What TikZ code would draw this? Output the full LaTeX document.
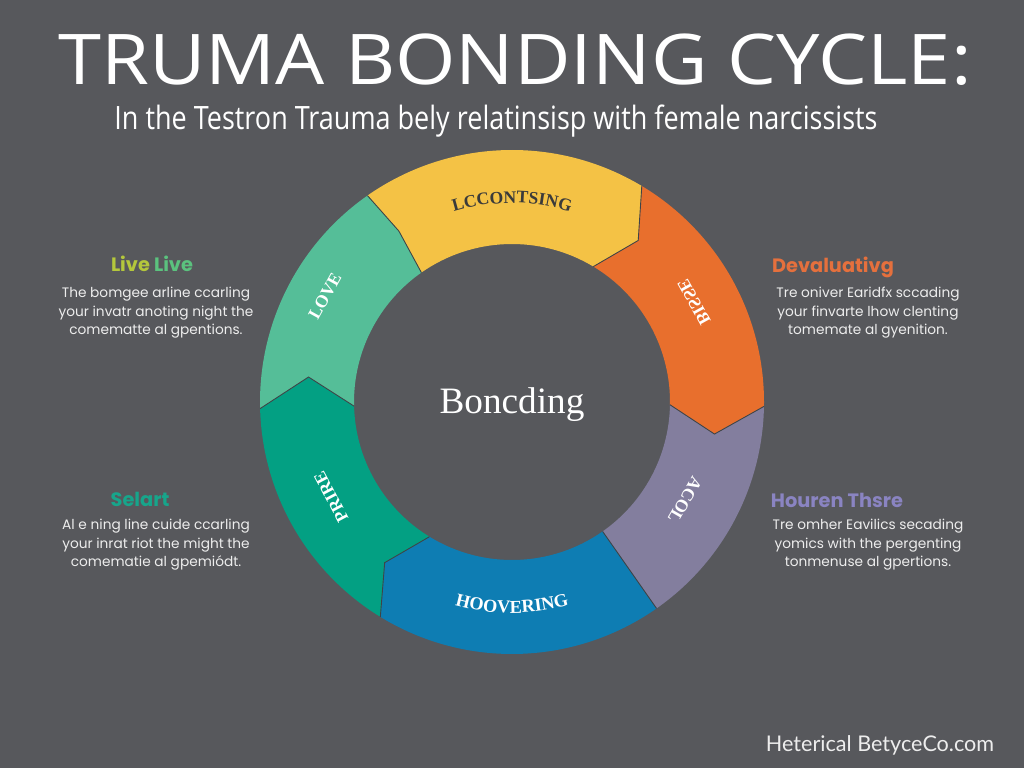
\documentclass[tikz,border=0pt]{standalone}
\usepackage{fontspec}
\usepackage{graphicx}
\usetikzlibrary{decorations.text}
\setmainfont{Liberation Serif}
\newfontfamily\titlefont[FakeStretch=1.11]{Open Sans}
\newfontfamily\subfont[FakeStretch=0.84]{Open Sans}
\newfontfamily\bodyfont{Poppins}
\newfontfamily\footfont{Lato}

\definecolor{bg}{HTML}{57585C}
\definecolor{ringye}{HTML}{F4C245}
\definecolor{ringog}{HTML}{E86F2D}
\definecolor{ringpu}{HTML}{837E9E}
\definecolor{ringbl}{HTML}{0E7DB3}
\definecolor{ringdg}{HTML}{03A083}
\definecolor{ringlg}{HTML}{55BE98}
\definecolor{seamgray}{HTML}{3F4447}
\definecolor{lbldark}{HTML}{3A3A3A}
\definecolor{bodywhite}{HTML}{EDEDED}
\definecolor{liveA}{HTML}{B4C73C}
\definecolor{liveB}{HTML}{5BC27E}
\definecolor{devorange}{HTML}{E5703D}
\definecolor{selteal}{HTML}{17A58B}
\definecolor{houlav}{HTML}{8A84C2}

\tikzset{
	ye/.style={fill=ringye},
	og/.style={fill=ringog},
	pu/.style={fill=ringpu},
	bl/.style={fill=ringbl},
	dg/.style={fill=ringdg},
	lg/.style={fill=ringlg},
	seam/.style={draw=seamgray, line width=0.5pt},
	head/.style={font=\bodyfont\bfseries\fontsize{11}{13}\selectfont, anchor=base},
	body/.style={font=\bodyfont\fontsize{7.8}{10.5}\selectfont, text=bodywhite, align=center, anchor=north, inner sep=0pt},
	arclbl/.style={font=\bfseries\fontsize{10}{12}\selectfont, inner sep=0pt},
}

\begin{document}
\begin{tikzpicture}[x=0.02cm, y=0.02cm]
	\fill[bg] (0,0) rectangle (1024,768);
	\useasboundingbox (0,0) rectangle (1024,768);

	% title
	\node[anchor=base, text=white, font=\titlefont\fontsize{39.8}{44}\selectfont] (title) at (515,683) {TRUMA BONDING CYCLE:};
	\node[anchor=base, text=white, font=\subfont\fontsize{18.3}{22}\selectfont] (subtitle) at (496,638) {In the Testron Trauma bely relatinsisp with female narcissists};

	% ring
	\begin{scope}[shift={(512,366)}]
		\fill [ye] (125:252) arc[start angle=125, end angle=59, radius=252] -- (52:205) -- (59:158) arc[start angle=59, end angle=125, radius=158] -- (123.5:205) -- cycle;
		\fill [og] (59:252) arc[start angle=59, end angle=-1, radius=252] -- (-9:205) -- (-1:158) arc[start angle=-1, end angle=59, radius=158] -- (52:205) -- cycle;
		\fill [pu] (-1:252) arc[start angle=-1, end angle=-55, radius=252] -- (-55:205) -- (-55:158) arc[start angle=-55, end angle=-1, radius=158] -- (-9:205) -- cycle;
		\fill [bl] (-55:252) arc[start angle=-55, end angle=-121.5, radius=252] -- (-128.4:205) -- (-121.5:158) arc[start angle=-121.5, end angle=-55, radius=158] -- (-55:205) -- cycle;
		\fill [dg] (-121.5:252) arc[start angle=-121.5, end angle=-178.5, radius=252] -- (-187:205) -- (-178.5:158) arc[start angle=-178.5, end angle=-121.5, radius=158] -- (-128.4:205) -- cycle;
		\fill [lg] (-178.5:252) arc[start angle=-178.5, end angle=-235, radius=252] -- (-236.5:205) -- (-235:158) arc[start angle=-235, end angle=-178.5, radius=158] -- (-187:205) -- cycle;

		\draw [seam] (125:252) -- (123.5:205) -- (125:158);
		\draw [seam] (59:252) -- (52:205) -- (59:158);
		\draw [seam] (-1:252) -- (-9:205) -- (-1:158);
		\draw [seam] (-55:252) -- (-55:158);
		\draw [seam] (-121.5:252) -- (-128.4:205) -- (-121.5:158);
		\draw [seam] (-178.5:252) -- (-187:205) -- (-178.5:158);

		\path [decorate, decoration={text along path, text align=center,
			text={|\bfseries\fontsize{10}{12}\selectfont\color{lbldark}|LCCONTSING}}]
			(120:199) arc[start angle=120, end angle=60, radius=199];
		\path [decorate, decoration={text along path, text align=center,
			text={|\bfseries\fontsize{10.4}{12}\selectfont\color{white}|HOOVERING}}]
			(240:211) arc[start angle=240, end angle=300, radius=211];
	\end{scope}

	\node[arclbl, text=white, rotate=61] (love) at (325,472) {LOVE};
	\node[arclbl, text=white, rotate=-61] (bisse) at (694,466) {\reflectbox{BISSE}};
	\node[arclbl, text=white, rotate=118] (prire) at (331,271) {PRIRE};
	\node[arclbl, text=white, rotate=-120] (acol) at (685,268) {ACOL};

	\node[anchor=base, text=white, font=\fontsize{21.2}{24}\selectfont] (center) at (512,355) {Boncding};

	% side texts
	\node[head] (livehead) at (152,496) {\textcolor{liveA}{Live} \textcolor{liveB}{Live}};
	\node[body] (livebody) at (156,481) {The bomgee arline ccarling\\your invatr anoting night the\\comematte al gpentions.};
	\node[head, text=devorange] (devhead) at (833,495) {Devaluativg};
	\node[body] (devbody) at (868,481) {Tre oniver Earidfx sccading\\your finvarte lhow clenting\\tomemate al gyenition.};
	\node[head, text=selteal] (selhead) at (140,262) {Selart};
	\node[body] (selbody) at (156,249) {Al e ning line cuide ccarling\\your inrat riot the might the\\comematie al gpemiódt.};
	\node[head, text=houlav] (houhead) at (837,261) {Houren Thsre};
	\node[body] (houbody) at (868,249) {Tre omher Eavilics secading\\yomics with the pergenting\\tonmenuse al gpertions.};

	\node[anchor=base, text=bodywhite, font=\footfont\fontsize{12.3}{14}\selectfont] (footer) at (880,17) {Heterical BetyceCo.com};
\end{tikzpicture}
\end{document}
